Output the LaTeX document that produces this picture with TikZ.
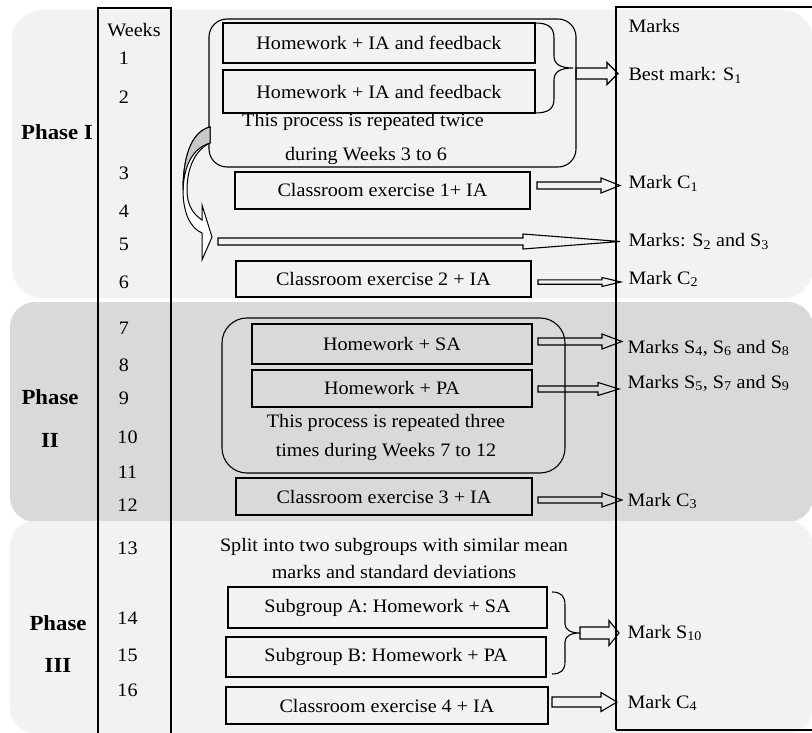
\documentclass[tikz,border=0pt]{standalone}
\usepackage{fontspec}
\setmainfont[FakeStretch=1.06]{Liberation Serif}
\newcommand\myfs{\fontsize{19}{23}\selectfont}
\newcommand\myfb{\fontsize{21.5}{25}\selectfont\bfseries}
\definecolor{bgL}{HTML}{F2F2F2}
\definecolor{bgD}{HTML}{D9D9D9}
\definecolor{crescent}{HTML}{C8C8C8}
% block arrow: start x, head base x, tip x, y, shaft half, head half
\newcommand\barrow[6]{%
  \draw[blk] ({#1},{#4-#5}) -- ({#2},{#4-#5}) -- ({#2},{#4-#6}) -- ({#3},{#4})
    -- ({#2},{#4+#6}) -- ({#2},{#4+#5}) -- ({#1},{#4+#5}) -- cycle;}
\begin{document}
\begin{tikzpicture}[x=1pt,y=-1pt,line width=1.1pt,
  box/.style={draw,rectangle,inner sep=0pt,font=\myfs},
  txt/.style={inner sep=0pt,font=\myfs},
  mk/.style={inner sep=0pt,font=\myfs,anchor=base west},
  wk/.style={inner sep=0pt,font=\myfs},
  ph/.style={inner sep=0pt,font=\myfb},
  blk/.style={line width=1.1pt,line join=miter},
  grp/.style={draw,rounded corners=#1}]
\useasboundingbox (0,0) rectangle (812,733);
\clip (0,0) rectangle (812,733);
% phase bands
\fill[bgL,rounded corners=30] (12,10) rectangle (813,298);
\fill[bgD,rounded corners=25] (10,302) rectangle (813,522);
\fill[bgL,rounded corners=25] (10,521) rectangle (813,733);
% columns
\draw (98,760) -- (98,8) -- (171,8) -- (171,760);
\draw (616,730) -- (616,7) -- (830,7);
\draw (616,730) -- (830,730);
% phase labels
\node[ph] (p1) at (57,132) {Phase I};
\node[ph] (p2a) at (50,397) {Phase};
\node[ph] (p2b) at (50,440) {II};
\node[ph] (p3a) at (58,623) {Phase};
\node[ph] (p3b) at (58,665) {III};
% weeks
\node[wk] (wh) at (134,30) {Weeks};
\foreach \n/\y in {1/58,2/97,3/173,4/211,5/244,6/282,7/328,8/365,9/398}
  \node[wk] (w\n) at (124,\y) {\n};
\foreach \n/\y in {10/437,11/472,12/505,13/548,14/618,15/655,16/690}
  \node[wk] (w\n) at (127.5,\y) {\n};
% ---------- Phase I ----------
\draw[grp=18] (209,19) rectangle (576,167);
\node[box,minimum width=312,minimum height=40] (hw1) at (379,43) {Homework + IA and feedback};
\node[box,minimum width=312,minimum height=43] (hw2) at (379,91.5) {Homework + IA and feedback};
\node[txt] (rep1) at (363,122) {This process is repeated twice};
\node[txt] (rep2) at (366,156) {during Weeks 3 to 6};
\node[box,minimum width=295,minimum height=37] (ce1) at (382.5,190.5) {Classroom exercise 1+ IA};
\node[box,minimum width=295,minimum height=36] (ce2) at (383.5,279) {Classroom exercise 2 + IA};
% brace phase I
\draw (535,23) .. controls (548,23) and (554,27) .. (554,38) -- (554,56)
  .. controls (554,64) and (560,68) .. (573,68)
  .. controls (560,68) and (554,72) .. (554,80) -- (554,99)
  .. controls (554,109) and (548,113) .. (535,113);
% curved arrow
\filldraw[fill=white,line width=1pt] (210,127) .. controls (190,132) and (183,160) .. (183,190)
  .. controls (183,212) and (190,228) .. (202,233) -- (202,260) -- (212,237) -- (202,205)
  -- (202,220) .. controls (193,214) and (187,205) .. (187,190)
  .. controls (187,168) and (195,150) .. (210,143) -- cycle;
\filldraw[fill=crescent,line width=1pt] (210,127) .. controls (190,132) and (183,160) .. (183,190)
  .. controls (184,165) and (193,148) .. (210,143) -- cycle;
% marks phase I
\node[mk] (mh) at (628,33) {Marks};
\node[mk] (m1) at (628,81) {Best mark: S\textsubscript{1}};
\node[mk] (m2) at (628,189) {Mark C\textsubscript{1}};
\node[mk] (m3) at (628,247) {Marks: S\textsubscript{2} and S\textsubscript{3}};
\node[mk] (m4) at (628,284) {Mark C\textsubscript{2}};
\barrow{576}{607}{618}{73.5}{5.5}{11}
\barrow{537}{601}{620}{185.5}{3.5}{7.5}
\barrow{218}{523}{620}{241.5}{3.5}{7.5}
\barrow{538}{602}{621}{282}{2.2}{4.5}
% ---------- Phase II ----------
\draw[grp=25] (222,318) rectangle (565,473);
\node[box,minimum width=280,minimum height=40] (sa) at (392,344) {Homework + SA};
\node[box,minimum width=280,minimum height=37] (pa) at (392,388.5) {Homework + PA};
\node[txt] (rep3) at (386,423) {This process is repeated three};
\node[txt] (rep4) at (386,452) {times during Weeks 7 to 12};
\node[box,minimum width=296,minimum height=37] (ce3) at (384,496.5) {Classroom exercise 3 + IA};
\node[mk] (m5) at (627,353) {Marks S\textsubscript{4}, S\textsubscript{6} and S\textsubscript{8}};
\node[mk] (m6) at (627,388) {Marks S\textsubscript{5}, S\textsubscript{7} and S\textsubscript{9}};
\node[mk] (m7) at (627,506) {Mark C\textsubscript{3}};
\barrow{538}{602}{622}{341.5}{3.5}{7.5}
\barrow{538}{598}{619}{389}{3}{6.5}
\barrow{538}{602}{622}{500}{3}{7}
% ---------- Phase III ----------
\node[txt] (sp1) at (394,547) {Split into two subgroups with similar mean};
\node[txt] (sp2) at (394,572) {marks and standard deviations};
\node[box,minimum width=319,minimum height=41] (sga) at (387.5,607.5) {Subgroup A: Homework + SA};
\node[box,minimum width=320,minimum height=40] (sgb) at (386,657) {Subgroup B: Homework + PA};
\node[box,minimum width=322,minimum height=37] (ce4) at (387,705.5) {Classroom exercise 4 + IA};
\draw (552,592) .. controls (561,592) and (565,596) .. (565,605) -- (565,624)
  .. controls (565,630) and (571,633) .. (580,633)
  .. controls (571,633) and (565,636) .. (565,642) -- (565,662)
  .. controls (565,670) and (561,674) .. (552,674);
\node[mk] (m8) at (627,638) {Mark S\textsubscript{10}};
\node[mk] (m9) at (627,708) {Mark C\textsubscript{4}};
\barrow{580}{609}{619}{633}{6}{12.5}
\barrow{552}{601}{617}{702}{5}{9.5}
\end{tikzpicture}
\end{document}
